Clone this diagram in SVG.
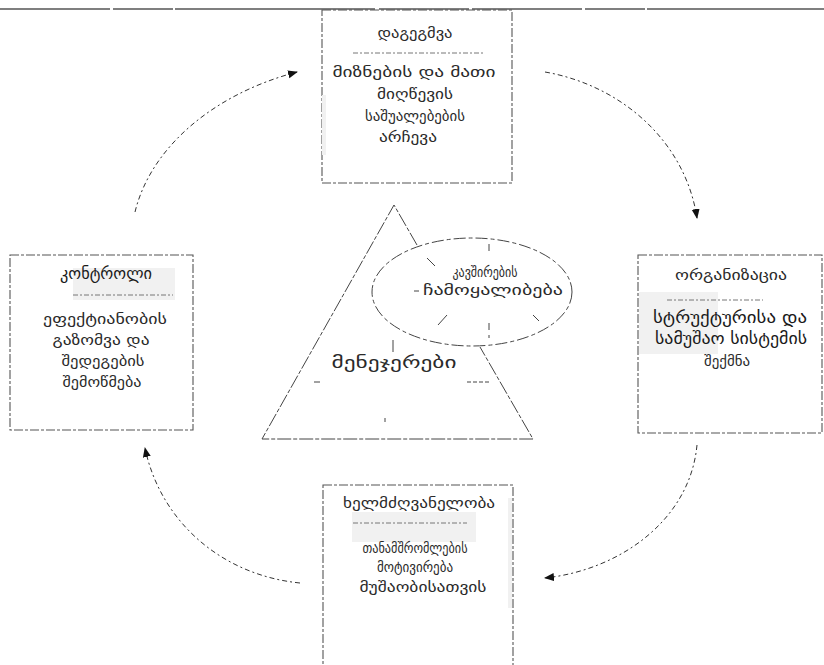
<svg xmlns="http://www.w3.org/2000/svg" width="824" height="665" viewBox="0 0 824 665">
  <defs>
    <marker id="arrow" viewBox="0 0 10 10" refX="9" refY="5" markerWidth="10" markerHeight="10" markerUnits="userSpaceOnUse" orient="auto">
      <path d="M0,1 L10,5 L0,9 Z" fill="#111"/>
    </marker>
    <style>
      text { font-family: "DejaVu Sans", "Noto Sans", sans-serif; fill: #2a2a2a; text-anchor: middle; }
      .title { font-size: 14px; }
      .body { font-size: 15px; }
      .big { font-size: 16px; fill: #1a1a1a; }
      .frame { fill: #fff; stroke: #555; stroke-width: 1.1; stroke-dasharray: 9 2 3 2; }
      .rule { stroke: #777; stroke-width: 1; stroke-dasharray: 5 2 2 2; }
      .flow { fill: none; stroke: #333; stroke-width: 1; stroke-dasharray: 5 3 2 3; }
      .tick { stroke: #444; stroke-width: 1; }
      .shade { fill: #f1f1f1; }
    </style>
  </defs>

  <rect width="824" height="665" fill="#fff"/>

  <!-- heading rule -->
  <line x1="0" y1="9" x2="824" y2="9" stroke="#555" stroke-width="1.4" stroke-dasharray="110 3 60 2 200 4 90 3"/>

  <!-- connectors of the cycle -->
  <g id="connectors">
    <path class="flow" d="M135,212 C150,150 210,95 297,72" marker-end="url(#arrow)"/>
    <path class="flow" d="M545,72 C620,85 685,140 697,218" marker-end="url(#arrow)"/>
    <path class="flow" d="M697,445 C690,520 620,570 545,578" marker-end="url(#arrow)"/>
    <path class="flow" d="M300,583 C220,575 160,520 145,448" marker-end="url(#arrow)"/>
  </g>

  <!-- planning -->
  <g id="planning">
    <rect class="frame" x="322" y="10" width="190" height="173"/>
    <rect class="shade" x="322" y="95" width="4" height="60"/>
    <text class="title" x="415" y="38" textLength="75" lengthAdjust="spacingAndGlyphs">დაგეგმვა</text>
    <line class="rule" x1="353" y1="53" x2="483" y2="53"/>
    <text class="body" x="414" y="77" textLength="163" lengthAdjust="spacingAndGlyphs">მიზნების და მათი</text>
    <text class="body" x="415" y="99" textLength="76" lengthAdjust="spacingAndGlyphs">მიღწევის</text>
    <text class="body" x="415" y="121" textLength="100" lengthAdjust="spacingAndGlyphs">საშუალებების</text>
    <text class="body" x="408" y="142" textLength="58" lengthAdjust="spacingAndGlyphs">არჩევა</text>
  </g>

  <!-- organizing -->
  <g id="organizing">
    <rect class="frame" x="638" y="255" width="184" height="178"/>
    <rect class="shade" x="639" y="292" width="79" height="62"/>
    <text class="title" x="731" y="280" textLength="112" lengthAdjust="spacingAndGlyphs">ორგანიზაცია</text>
    <line class="rule" x1="667" y1="300" x2="763" y2="300"/>
    <text class="big" x="730" y="323" textLength="154" lengthAdjust="spacingAndGlyphs">სტრუქტურისა და</text>
    <text class="big" x="731" y="344" textLength="152" lengthAdjust="spacingAndGlyphs">სამუშაო სისტემის</text>
    <text class="body" x="727" y="366" textLength="46" lengthAdjust="spacingAndGlyphs">შექმნა</text>
  </g>

  <!-- leading -->
  <g id="leading">
    <rect class="frame" x="323" y="485" width="190" height="185"/>
    <rect class="shade" x="352" y="512" width="124" height="30"/>
    <rect class="shade" x="508" y="498" width="4" height="110"/>
    <text class="title" x="419" y="508" textLength="152" lengthAdjust="spacingAndGlyphs">ხელმძღვანელობა</text>
    <line class="rule" x1="353" y1="523" x2="467" y2="523"/>
    <text class="body" x="415" y="553" textLength="105" lengthAdjust="spacingAndGlyphs">თანამშრომლების</text>
    <text class="body" x="415" y="572" textLength="76" lengthAdjust="spacingAndGlyphs">მოტივირება</text>
    <text class="body" x="423" y="592" textLength="127" lengthAdjust="spacingAndGlyphs">მუშაობისათვის</text>
  </g>

  <!-- controlling -->
  <g id="controlling">
    <rect class="frame" x="10" y="255" width="183" height="175"/>
    <rect class="shade" x="73" y="268" width="102" height="32"/>
    <text class="big" x="106" y="279" textLength="92" lengthAdjust="spacingAndGlyphs">კონტროლი</text>
    <line class="rule" x1="73" y1="295" x2="173" y2="295"/>
    <text class="body" x="105" y="324" textLength="124" lengthAdjust="spacingAndGlyphs">ეფექტიანობის</text>
    <text class="body" x="101" y="345" textLength="97" lengthAdjust="spacingAndGlyphs">გაზომვა და</text>
    <text class="body" x="103" y="366" textLength="83" lengthAdjust="spacingAndGlyphs">შედეგების</text>
    <text class="body" x="102" y="387" textLength="79" lengthAdjust="spacingAndGlyphs">შემოწმება</text>
  </g>

  <!-- managers -->
  <g id="managers">
    <path d="M417,245 L394,205 L262,439 L533,439 L480,347" fill="none" stroke="#444" stroke-width="1" stroke-dasharray="14 2 4 2"/>
    <line class="tick" x1="393" y1="340" x2="393" y2="352"/>
    <line class="tick" x1="314" y1="382" x2="320" y2="382"/>
    <line class="tick" x1="467" y1="382" x2="490" y2="382" stroke-dasharray="4 2"/>
    <line class="tick" x1="385" y1="418" x2="385" y2="422"/>
    <text x="394" y="368" style="font-size:17px" textLength="125" lengthAdjust="spacingAndGlyphs">მენეჯერები</text>
  </g>

  <!-- linking processes -->
  <g id="linking">
    <ellipse cx="472" cy="292" rx="100" ry="54" fill="#fff" stroke="#444" stroke-width="1" stroke-dasharray="12 3 4 3"/>
    <line class="tick" x1="489" y1="244" x2="489" y2="251"/>
    <line class="tick" x1="427" y1="258" x2="435" y2="266"/>
    <line class="tick" x1="447" y1="315" x2="438" y2="325"/>
    <line class="tick" x1="489" y1="323" x2="489" y2="330"/>
    <line class="tick" x1="489" y1="335" x2="489" y2="338"/>
    <line class="tick" x1="533" y1="315" x2="539" y2="321"/>
    <line class="tick" x1="414" y1="291" x2="419" y2="291"/>
    <text class="title" x="485" y="277" textLength="65" lengthAdjust="spacingAndGlyphs">კავშირების</text>
    <text class="title" x="493" y="295" textLength="140" lengthAdjust="spacingAndGlyphs">ჩამოყალიბება</text>
  </g>
</svg>
